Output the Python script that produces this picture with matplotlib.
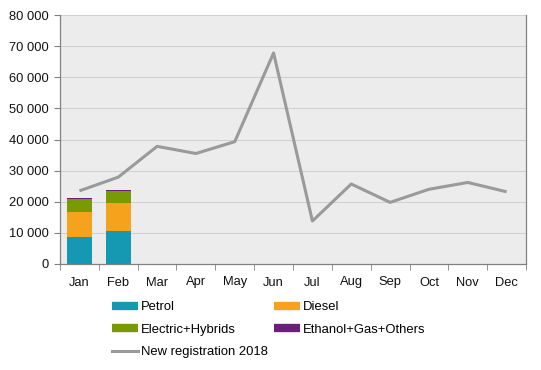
import numpy as np
import matplotlib.pyplot as plt
from matplotlib.lines import Line2D
from matplotlib.ticker import FuncFormatter

plt.rcParams['font.family'] = ['Liberation Sans', 'DejaVu Sans']

months = ['Jan', 'Feb', 'Mar', 'Apr', 'May', 'Jun', 'Jul', 'Aug', 'Sep', 'Oct', 'Nov', 'Dec']
petrol = [8700, 10700]
diesel = [8000, 8900]
electric = [4200, 3900]
others = [300, 300]
reg2018 = [23500, 27900, 37800, 35500, 39300, 67800, 13800, 25700, 19800, 24000, 26200, 23200]

c_petrol = '#1599b2'
c_diesel = '#f5a31c'
c_electric = '#799a03'
c_others = '#6b1f7a'
c_line = '#9a9a9a'

fig = plt.figure(figsize=(5.41, 3.70), dpi=100)
ax = fig.add_axes([60/541, 1 - 264/370, 466/541, 249/370])
ax.set_facecolor('#ececec')

x = np.arange(len(months))
xb = x[:len(petrol)]
w = 0.65
bot = np.zeros(len(petrol))
for vals, col in [(petrol, c_petrol), (diesel, c_diesel), (electric, c_electric), (others, c_others)]:
    ax.bar(xb, vals, w, bottom=bot, color=col, zorder=3)
    bot += np.array(vals)

ax.plot(x, reg2018, color=c_line, lw=2.2, zorder=4, solid_capstyle='butt')

ax.set_xlim(-0.5, 11.5)
ax.set_ylim(0, 80000)
ax.set_yticks(range(0, 80001, 10000))
ax.yaxis.set_major_formatter(FuncFormatter(lambda v, p: f'{int(v):,}'.replace(',', ' ')))
ax.yaxis.grid(True, color='#cfcfcf', lw=0.7, zorder=0)
ax.set_xticks(x)
ax.set_xticklabels(months)
ax.set_xticks(np.arange(-0.5, 12, 1), minor=True)
ax.tick_params(axis='x', which='major', length=0, pad=9)
ax.tick_params(axis='x', which='minor', length=4, color='#808080')
ax.tick_params(axis='y', length=4, color='#808080', pad=4)
ax.tick_params(labelsize=9.3, labelcolor='#111111')
ax.spines['top'].set_visible(False)
for s in ['left', 'bottom', 'right']:
    ax.spines[s].set_color('#808080')
    ax.spines[s].set_linewidth(0.9)

handles = [
    Line2D([], [], color=c_petrol, lw=6, solid_capstyle='butt'),
    Line2D([], [], color=c_electric, lw=6, solid_capstyle='butt'),
    Line2D([], [], color=c_line, lw=2.2),
    Line2D([], [], color=c_diesel, lw=6, solid_capstyle='butt'),
    Line2D([], [], color=c_others, lw=6, solid_capstyle='butt'),
]
labels = ['Petrol', 'Electric+Hybrids', 'New registration 2018', 'Diesel', 'Ethanol+Gas+Others']
fig.legend(handles, labels, ncol=2, frameon=False, fontsize=9.4,
           loc='upper left', bbox_to_anchor=(112/541, 1 - 301/370),
           handlelength=2.0, handletextpad=0.2, columnspacing=0.5,
           labelspacing=0.8, borderaxespad=0, borderpad=0)

fig.savefig('out.png', dpi=100)
